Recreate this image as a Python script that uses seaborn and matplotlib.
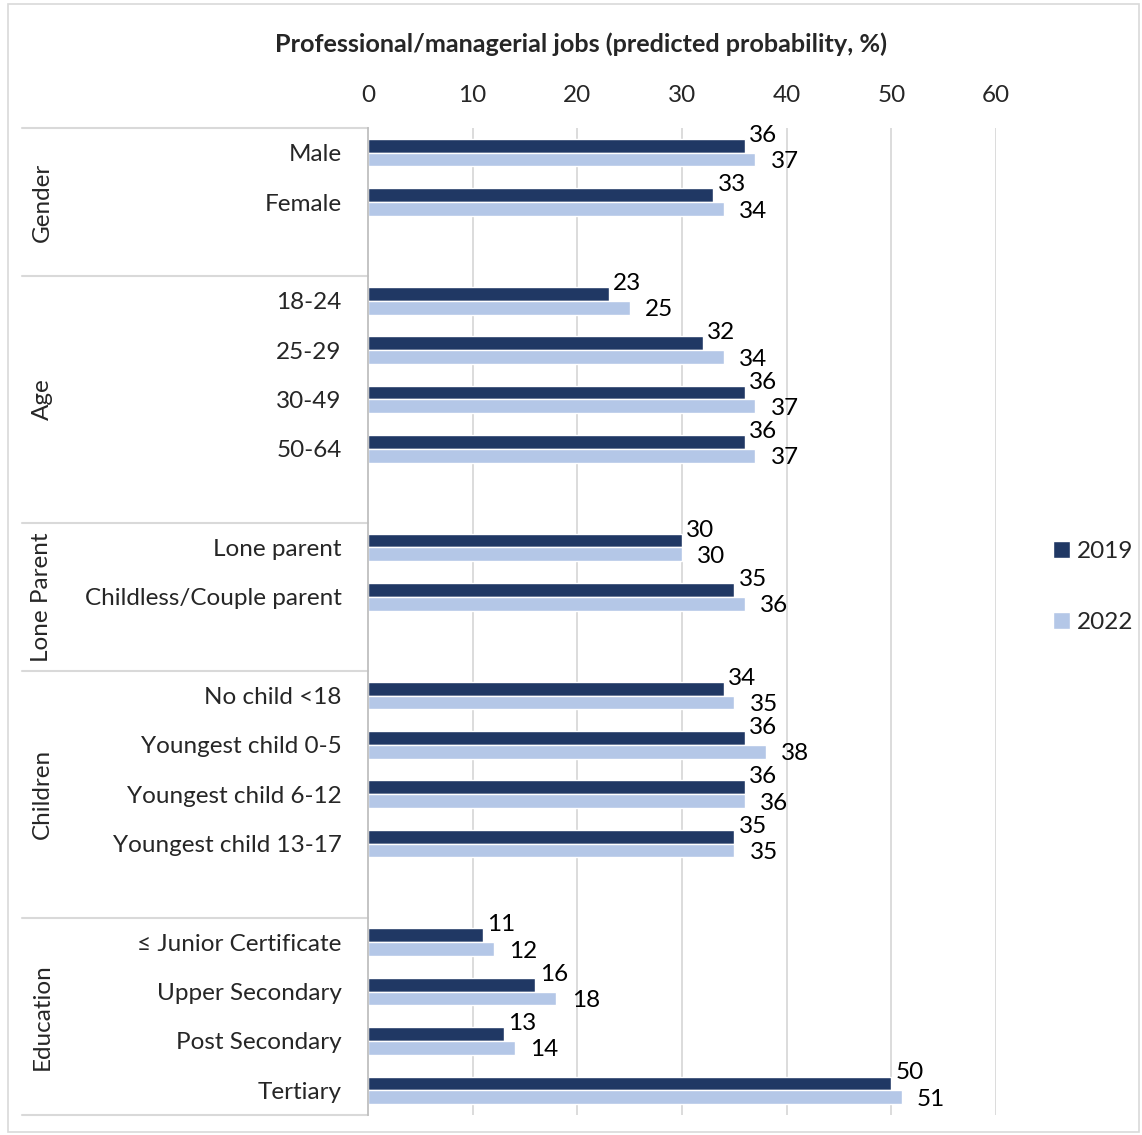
import matplotlib
matplotlib.use("Agg")
import matplotlib.pyplot as plt
import seaborn as sns
import pandas as pd
from matplotlib.patches import Rectangle, Patch

# Category rows (top to bottom) per group
groups = ["Gender", "Age", "Lone Parent", "Children", "Education"]
gender_cats = ["Male", "Female"]
age_cats = ["18-24", "25-29", "30-49", "50-64"]
lone_cats = ["Lone parent", "Childless/Couple parent"]
children_cats = ["No child <18", "Youngest child 0-5", "Youngest child 6-12", "Youngest child 13-17"]
education_cats = ["\u2264 Junior Certificate", "Upper Secondary", "Post Secondary", "Tertiary"]

# Predicted probability (%) by year
gender_2019 = [36, 33]
gender_2022 = [37, 34]
age_2019 = [23, 32, 36, 36]
age_2022 = [25, 34, 37, 37]
lone_2019 = [30, 35]
lone_2022 = [30, 36]
children_2019 = [34, 36, 36, 35]
children_2022 = [35, 38, 36, 35]
education_2019 = [11, 16, 13, 50]
education_2022 = [12, 18, 14, 51]

years = ["2019", "2022"]
x_ticks = [0, 10, 20, 30, 40, 50, 60]

group_cats = [gender_cats, age_cats, lone_cats, children_cats, education_cats]
group_2019 = [gender_2019, age_2019, lone_2019, children_2019, education_2019]
group_2022 = [gender_2022, age_2022, lone_2022, children_2022, education_2022]

# Build long-form table and the row order with a spacer row after each group
rows = []
order = []
group_spans = []
for gi, (cats, v19, v22) in enumerate(zip(group_cats, group_2019, group_2022)):
    start = len(order)
    for c, a, b in zip(cats, v19, v22):
        rows.append({"category": c, "year": years[0], "value": a})
        rows.append({"category": c, "year": years[1], "value": b})
        order.append(c)
    if gi < len(group_cats) - 1:
        order.append(" " * (gi + 1))
    group_spans.append((start, len(order)))
df = pd.DataFrame(rows)

sns.set_theme(style="white")
plt.rcParams["font.family"] = ["Lato", "DejaVu Sans"]

dark = "#203864"
light = "#B4C7E7"
grid_c = "#D9D9D9"
fs = 17.5

fig = plt.figure(figsize=(11.42, 11.35), dpi=100)
ax = fig.add_axes([368 / 1142, 1 - 1115 / 1135, 628 / 1142, 987 / 1135])

sns.barplot(data=df, y="category", x="value", hue="year", order=order,
            hue_order=years, palette=[dark, light], orient="h",
            width=0.56, dodge=True, ax=ax, legend=False, saturation=1)

ax.set_xlim(0, 60)
ax.set_ylim(len(order) - 0.5, -0.5)
ax.set_xticks(x_ticks)
ax.set_xticklabels([str(t) for t in x_ticks], fontsize=fs)
ax.xaxis.tick_top()
ax.tick_params(axis="x", length=0, pad=16)
ax.set_yticks(range(len(order)))
ax.set_yticklabels([o if o.strip() else "" for o in order], fontsize=fs)
ax.tick_params(axis="y", length=0, pad=19)
ax.set_xlabel("")
ax.set_ylabel("")
for x in x_ticks[1:]:
    ax.axvline(x, color=grid_c, lw=1.3, zorder=0)
for s in ["top", "right", "bottom"]:
    ax.spines[s].set_visible(False)
ax.spines["left"].set_color("#BFBFBF")
ax.spines["left"].set_linewidth(1.3)

# Value labels
for container, dx, dy in zip(ax.containers, [3, 11], [7.5, -1.5]):
    for bar in container:
        w = bar.get_width()
        if pd.isna(w) or w == 0:
            continue
        yc = bar.get_y() + bar.get_height() / 2
        ax.annotate(f"{w:.0f}", (w, yc), xytext=(dx, dy), textcoords="offset points",
                    ha="left", va="center", fontsize=fs, color="#000000")

# Group table lines and labels
ytr = ax.get_yaxis_transform()
x_left = (22 - 368) / 628
bounds = [-0.5] + [s[1] - 0.5 for s in group_spans]
for b in bounds:
    ax.plot([x_left, 0], [b, b], transform=ytr, color=grid_c, lw=1.5, clip_on=False)
for g, (s, e) in zip(groups, group_spans):
    ymid = (s - 0.5 + e - 0.5) / 2
    ax.text((42 - 368) / 628, ymid, g, transform=ytr, rotation=90, ha="center",
            va="center", fontsize=fs)

# Title
fig.text(581 / 1142, 1 - 44 / 1135, "Professional/managerial jobs (predicted probability, %)",
         ha="center", va="center", fontsize=18.2, fontweight="bold")

# Legend
handles = [Patch(facecolor=dark, label=years[0]), Patch(facecolor=light, label=years[1])]
fig.legend(handles=handles, loc="center left", bbox_to_anchor=(1053 / 1142, 1 - 587 / 1135),
           frameon=False, fontsize=fs, handlelength=0.7, handleheight=0.7,
           handletextpad=0.3, labelspacing=2.05, borderpad=0, borderaxespad=0)

# Chart border
fig.patches.append(Rectangle((8 / 1142, 3 / 1135), 1131 / 1142, 1128 / 1135,
                             transform=fig.transFigure, fill=False, edgecolor=grid_c, lw=1.2))

fig.savefig("out.png", dpi=100)
